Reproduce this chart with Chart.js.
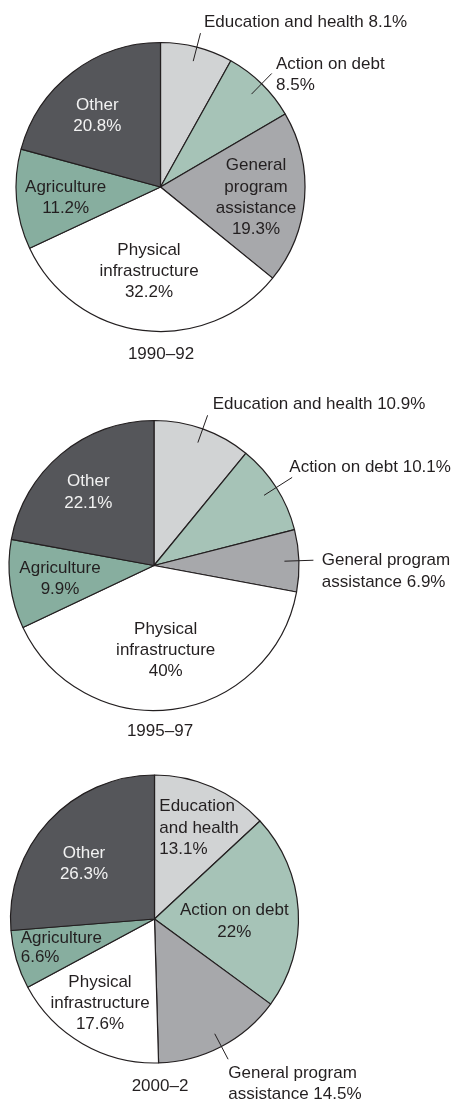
<!DOCTYPE html>
<html>
<head>
<meta charset="utf-8">
<script src="https://cdn.jsdelivr.net/npm/chart.js@4/dist/chart.umd.min.js"></script>
<style>
  html, body { margin: 0; padding: 0; background: #ffffff; }
  body { width: 455px; height: 1101px; position: relative; overflow: hidden; }
  canvas { position: absolute; left: 0; }
</style>
</head>
<body>
<canvas id="pie1" width="455" height="370" style="top:0px"></canvas>
<canvas id="pie2" width="455" height="370" style="top:370px"></canvas>
<canvas id="pie3" width="455" height="361" style="top:740px"></canvas>
<script>
// Sectors, listed clockwise from twelve o'clock
const categories = ['Education and health', 'Action on debt', 'General program assistance',
                    'Physical infrastructure', 'Agriculture', 'Other'];
const periods = ['1990–92', '1995–97', '2000–2'];

// Share of aid by sector (%)
const shares1990 = [8.1, 8.5, 19.3, 32.2, 11.2, 20.8];
const shares1995 = [10.9, 10.1, 6.9, 40, 9.9, 22.1];
const shares2000 = [13.1, 22, 14.5, 17.6, 6.6, 26.3];

const sectorColors = ['#d1d3d4', '#a6c3b7', '#a7a8ab', '#ffffff', '#87ae9f', '#55565a'];

const INK = '#231f20';
const LIGHT = '#f2f2f2';
const FONT = '17px "Liberation Sans", Arial, Helvetica, sans-serif';
const LINE = 21.2;

// Label text per slice ({v} = value), position relative to the pie centre
const layouts = [
  {
    canvas: 'pie1', cx: 160.5, cy: 187, r: 144.5, caption: [0.5, 167.3],
    labels: [
      { lines: ['Education and health {v}'], align: 'left', dx: 43.5, dy: -164.3, leader: [0.9, 1.1] },
      { lines: ['Action on debt', '{v}'], align: 'left', dx: 115.5, dy: -123, leader: [0.9, 1.1] },
      { lines: ['General', 'program', 'assistance', '{v}'], dx: 95.5, dy: -21.3 },
      { lines: ['Physical', 'infrastructure', '{v}'], dx: -11.5, dy: 63 },
      { lines: ['Agriculture', '{v}'], dx: -94.8, dy: 0.3 },
      { lines: ['Other', '{v}'], dx: -63.2, dy: -82, light: true }
    ]
  },
  {
    canvas: 'pie2', cx: 154, cy: 195.5, r: 145, caption: [6, 166.2],
    labels: [
      { lines: ['Education and health {v}'], align: 'left', dx: 58.7, dy: -161.2, leader: [0.9, 1.1] },
      { lines: ['Action on debt {v}'], align: 'left', dx: 135.3, dy: -98.2, leader: [0.9, 1.13] },
      { lines: ['General program', 'assistance {v}'], align: 'left', dx: 167.7, dy: -4.8, leader: [0.9, 1.1] },
      { lines: ['Physical', 'infrastructure', '{v}'], dx: 11.7, dy: 63.8 },
      { lines: ['Agriculture', '{v}'], dx: -94, dy: 2.8 },
      { lines: ['Other', '{v}'], dx: -65.7, dy: -83.8, light: true }
    ]
  },
  {
    canvas: 'pie3', cx: 154.5, cy: 179, r: 144, caption: [5.5, 167.7],
    labels: [
      { lines: ['Education', 'and health', '{v}'], align: 'left', dx: 4.8, dy: -112.3 },
      { lines: ['Action on debt', '{v}'], dx: 79.8, dy: -8.3 },
      { lines: ['General program', 'assistance {v}'], align: 'left', dx: 73.8, dy: 154.3, leader: [0.9, 1.1] },
      { lines: ['Physical', 'infrastructure', '{v}'], dx: -54.5, dy: 63.3 },
      { lines: ['Agriculture', '{v}'], align: 'left', dx: -133.8, dy: 19.3, lineHeight: 19.4 },
      { lines: ['Other', '{v}'], dx: -70.5, dy: -65.7, light: true }
    ]
  }
];

// Draws slice labels, leader lines and the period caption
const sliceLabels = {
  id: 'sliceLabels',
  afterDatasetsDraw(chart, args, opts) {
    const ctx = chart.ctx;
    const meta = chart.getDatasetMeta(0);
    const values = chart.data.datasets[0].data;
    let cx = 0, cy = 0;
    ctx.save();
    ctx.font = FONT;
    ctx.textBaseline = 'middle';
    meta.data.forEach((arc, i) => {
      const p = arc.getProps(['x', 'y', 'startAngle', 'endAngle', 'outerRadius'], true);
      cx = p.x; cy = p.y;
      const spec = opts.labels[i];
      const mid = (p.startAngle + p.endAngle) / 2;
      if (spec.leader) {
        ctx.strokeStyle = INK;
        ctx.lineWidth = 1;
        ctx.beginPath();
        ctx.moveTo(p.x + Math.cos(mid) * p.outerRadius * spec.leader[0],
                   p.y + Math.sin(mid) * p.outerRadius * spec.leader[0]);
        ctx.lineTo(p.x + Math.cos(mid) * p.outerRadius * spec.leader[1],
                   p.y + Math.sin(mid) * p.outerRadius * spec.leader[1]);
        ctx.stroke();
      }
      ctx.fillStyle = spec.light ? LIGHT : INK;
      ctx.textAlign = spec.align || 'center';
      const lh = spec.lineHeight || LINE;
      spec.lines.forEach((t, k) => {
        ctx.fillText(t.replace('{v}', values[i] + '%'), p.x + spec.dx, p.y + spec.dy + k * lh);
      });
    });
    ctx.fillStyle = INK;
    ctx.textAlign = 'center';
    ctx.fillText(opts.caption, cx + opts.captionAt[0], cy + opts.captionAt[1]);
    ctx.restore();
  }
};

const seriesList = [shares1990, shares1995, shares2000];

layouts.forEach((lay, n) => {
  const canvas = document.getElementById(lay.canvas);
  const W = canvas.width, H = canvas.height;
  new Chart(canvas, {
    type: 'pie',
    data: {
      labels: categories,
      datasets: [{
        data: seriesList[n],
        backgroundColor: sectorColors,
        borderColor: INK,
        borderWidth: 1.2
      }]
    },
    options: {
      responsive: false,
      animation: false,
      radius: lay.r,
      layout: {
        padding: {
          left: lay.cx - lay.r,
          right: W - (lay.cx + lay.r),
          top: lay.cy - lay.r,
          bottom: H - (lay.cy + lay.r)
        }
      },
      plugins: {
        legend: { display: false },
        tooltip: { enabled: false },
        sliceLabels: { labels: lay.labels, caption: periods[n], captionAt: lay.caption }
      }
    },
    plugins: [sliceLabels]
  });
});
</script>
</body>
</html>
